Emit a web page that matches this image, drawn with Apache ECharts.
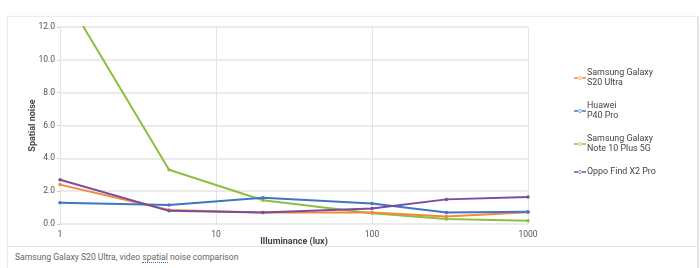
<!DOCTYPE html>
<html><head><meta charset="utf-8">
<script src="https://cdn.jsdelivr.net/npm/echarts@6/dist/echarts.min.js"></script>
<style>
html,body{margin:0;padding:0;background:#fff;font-family:Roboto,"Noto Sans",sans-serif;}
#card{position:absolute;left:7px;top:16px;width:689px;height:260px;border:1px solid #ececec;border-right:2px solid #e6e6e6;box-shadow:0 0 2px rgba(0,0,0,0.06);background:#fff;}
#sep{position:absolute;left:8px;top:246px;width:689px;height:1px;background:#e3e3e3;}
#cap{position:absolute;left:15px;top:252px;font-size:8.6px;color:#666;font-family:Roboto,sans-serif;}
#cap span{border-bottom:1px dotted #4a6fa5;}
#chart{position:absolute;left:0;top:0;width:700px;height:268px;}
</style></head>
<body>
<div id="card"></div>
<div id="sep"></div>
<div id="cap">Samsung Galaxy S20 Ultra, video <span>spatial</span> noise comparison</div>
<div id="chart"></div>
<script>
const lux = [1, 5, 20, 100, 300, 1000];
const seriesNames = ["Samsung Galaxy\nS20 Ultra", "Huawei\nP40 Pro", "Samsung Galaxy\nNote 10 Plus 5G", "Oppo Find X2 Pro"];
const s20Ultra = [2.4, 0.85, 0.7, 0.7, 0.45, 0.72];
const p40Pro = [1.3, 1.15, 1.6, 1.25, 0.7, 0.75];
const note10Plus = [14.4, 3.3, 1.45, 0.65, 0.3, 0.2];
const findX2Pro = [2.7, 0.8, 0.7, 0.95, 1.5, 1.65];
const colors = ["#F5883A", "#3E77C4", "#8DBF42", "#7A4C9E"];
const yTicks = [0, 2, 4, 6, 8, 10, 12];

const all = [s20Ultra, p40Pro, note10Plus, findX2Pro];
const chart = echarts.init(document.getElementById('chart'));
chart.setOption({
  animation: false,
  color: colors,
  grid: {left: 60, top: 27, width: 468, height: 197, containLabel: false},
  legend: {
    orient: 'vertical', left: 569, top: 63, itemGap: 13,
    itemWidth: 12, itemHeight: 8,
    textStyle: {fontSize: 8.9, color: '#444', fontFamily: 'Roboto', lineHeight: 10, padding: [0,0,0,-4]},
    data: seriesNames.map(n => ({name: n, icon: 'path://M0,4.3 L12,4.3 L12,5.7 L0,5.7 Z M4.2,5 A1.8,1.8 0 1 0 7.8,5 A1.8,1.8 0 1 0 4.2,5 Z'}))
  },
  xAxis: {
    type: 'log', logBase: 10, min: 1, max: 1000,
    name: 'Illuminance (lux)', nameLocation: 'middle', nameGap: 13, nameMoveOverlap: false,
    nameTextStyle: {fontSize: 9, fontWeight: 'bold', color: '#444', fontFamily: 'Roboto'},
    axisLine: {show: false}, axisTick: {show: false},
    axisLabel: {fontSize: 8.5, color: '#555', margin: 6, fontFamily: 'Roboto', formatter: v => String(Math.round(v))},
    splitLine: {show: true, lineStyle: {color: '#e4e4e4', width: 1}},
    minorSplitLine: {show: false}
  },
  yAxis: {
    type: 'value', min: 0, max: 12, interval: 2,
    name: 'Spatial noise', nameLocation: 'middle', nameGap: 23, nameMoveOverlap: false,
    nameTextStyle: {fontSize: 9, fontWeight: 'bold', color: '#444', fontFamily: 'Roboto'},
    axisLine: {show: false},
    axisTick: {show: true, length: 3, inside: false, lineStyle: {color: '#ccc'}},
    axisLabel: {fontSize: 8.5, color: '#555', margin: 5, fontFamily: 'Roboto',
      formatter: v => yTicks.includes(v) ? v.toFixed(1) : ''},
    splitLine: {show: true, lineStyle: {color: '#e4e4e4', width: 1.5}}
  },
  series: all.map((arr, i) => ({
    name: seriesNames[i], type: 'line', clip: true,
    data: lux.map((x, j) => [x, arr[j]]),
    symbol: 'circle', symbolSize: 3.5, showSymbol: true,
    lineStyle: {width: 2, color: colors[i]},
    itemStyle: {color: colors[i]},
    z: [2, 3, 1, 4][i]
  }))
});
</script>
</body></html>
